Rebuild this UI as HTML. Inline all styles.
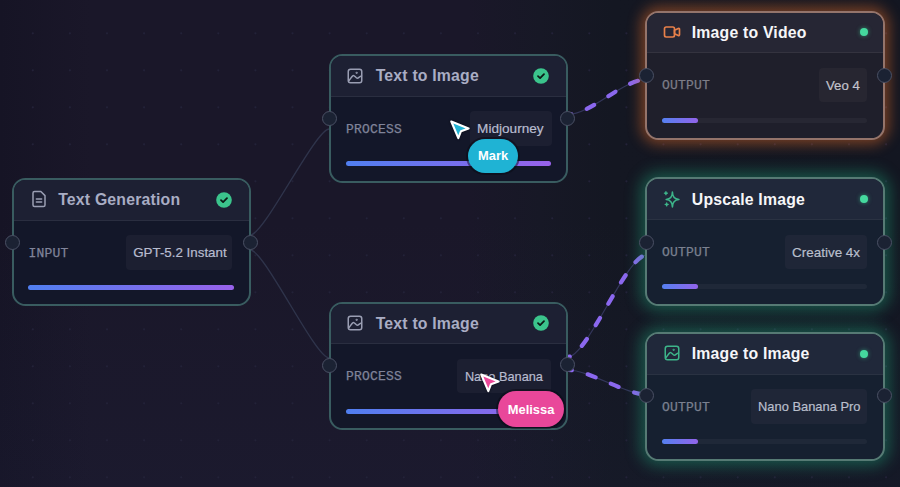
<!DOCTYPE html>
<html><head><meta charset="utf-8"><style>
*{margin:0;padding:0;box-sizing:border-box}
html,body{width:900px;height:487px;overflow:hidden}
body{background:linear-gradient(180deg,rgba(0,0,0,0) 45%,rgba(40,50,90,0.10) 100%),linear-gradient(90deg,#161425 0%,#1a1729 10%,#1a1729 52%,#171826 60%,#141722 68%,#131621 100%);font-family:"Liberation Sans",sans-serif;position:relative}
.dots,.wires{position:absolute;left:0;top:0}
.node{position:absolute;border:2px solid;border-radius:13.5px}
.head{position:absolute;left:0;top:0;right:0;height:40px;border-bottom:1px solid;border-radius:11.5px 11.5px 0 0}
.ic{position:absolute;display:flex;align-items:center;justify-content:center}
.ic svg{display:block}
.title{position:absolute;font-weight:bold;font-size:15.8px;letter-spacing:0.2px;line-height:18px;white-space:nowrap}
.check{position:absolute;width:16px;height:16px}
.check svg{display:block}
.dot{position:absolute;width:8px;height:8px;border-radius:50%;background:#45d99e;box-shadow:0 0 4px rgba(62,215,154,0.55)}
.label{position:absolute;font-family:"Liberation Mono",monospace;font-size:13px;letter-spacing:0.2px;line-height:15px;-webkit-text-stroke:0.25px currentColor}
.chip{position:absolute;height:34.5px;overflow:visible;font-size:13.2px;line-height:35.9px;border-radius:4px;white-space:nowrap;-webkit-text-stroke:0.2px currentColor}
.bar{position:absolute;height:5px;border-radius:3px}
.port{position:absolute;width:15px;height:15px;border-radius:50%;background:#1b2233;border:1.6px solid #4a5064}
.cur{position:absolute;filter:drop-shadow(0 0 1px rgba(5,5,15,0.9))}
.pill{position:absolute;border-radius:18px;color:#fff;font-weight:bold;font-size:12.9px;text-align:center;line-height:34.5px;box-shadow:0 0 0 2px rgba(10,10,20,0.5)}
</style></head>
<body>
<svg class="dots" width="900" height="487"><g fill="#232238"><circle cx="32.8" cy="33.3" r="1.1"/><circle cx="32.8" cy="70.3" r="1.1"/><circle cx="32.8" cy="107.3" r="1.1"/><circle cx="32.8" cy="144.3" r="1.1"/><circle cx="32.8" cy="181.3" r="1.1"/><circle cx="32.8" cy="218.3" r="1.1"/><circle cx="32.8" cy="255.3" r="1.1"/><circle cx="32.8" cy="292.3" r="1.1"/><circle cx="32.8" cy="329.3" r="1.1"/><circle cx="32.8" cy="366.3" r="1.1"/><circle cx="32.8" cy="403.3" r="1.1"/><circle cx="32.8" cy="440.3" r="1.1"/><circle cx="32.8" cy="477.3" r="1.1"/><circle cx="69.9" cy="33.3" r="1.1"/><circle cx="69.9" cy="70.3" r="1.1"/><circle cx="69.9" cy="107.3" r="1.1"/><circle cx="69.9" cy="144.3" r="1.1"/><circle cx="69.9" cy="181.3" r="1.1"/><circle cx="69.9" cy="218.3" r="1.1"/><circle cx="69.9" cy="255.3" r="1.1"/><circle cx="69.9" cy="292.3" r="1.1"/><circle cx="69.9" cy="329.3" r="1.1"/><circle cx="69.9" cy="366.3" r="1.1"/><circle cx="69.9" cy="403.3" r="1.1"/><circle cx="69.9" cy="440.3" r="1.1"/><circle cx="69.9" cy="477.3" r="1.1"/><circle cx="107.0" cy="33.3" r="1.1"/><circle cx="107.0" cy="70.3" r="1.1"/><circle cx="107.0" cy="107.3" r="1.1"/><circle cx="107.0" cy="144.3" r="1.1"/><circle cx="107.0" cy="181.3" r="1.1"/><circle cx="107.0" cy="218.3" r="1.1"/><circle cx="107.0" cy="255.3" r="1.1"/><circle cx="107.0" cy="292.3" r="1.1"/><circle cx="107.0" cy="329.3" r="1.1"/><circle cx="107.0" cy="366.3" r="1.1"/><circle cx="107.0" cy="403.3" r="1.1"/><circle cx="107.0" cy="440.3" r="1.1"/><circle cx="107.0" cy="477.3" r="1.1"/><circle cx="144.1" cy="33.3" r="1.1"/><circle cx="144.1" cy="70.3" r="1.1"/><circle cx="144.1" cy="107.3" r="1.1"/><circle cx="144.1" cy="144.3" r="1.1"/><circle cx="144.1" cy="181.3" r="1.1"/><circle cx="144.1" cy="218.3" r="1.1"/><circle cx="144.1" cy="255.3" r="1.1"/><circle cx="144.1" cy="292.3" r="1.1"/><circle cx="144.1" cy="329.3" r="1.1"/><circle cx="144.1" cy="366.3" r="1.1"/><circle cx="144.1" cy="403.3" r="1.1"/><circle cx="144.1" cy="440.3" r="1.1"/><circle cx="144.1" cy="477.3" r="1.1"/><circle cx="181.2" cy="33.3" r="1.1"/><circle cx="181.2" cy="70.3" r="1.1"/><circle cx="181.2" cy="107.3" r="1.1"/><circle cx="181.2" cy="144.3" r="1.1"/><circle cx="181.2" cy="181.3" r="1.1"/><circle cx="181.2" cy="218.3" r="1.1"/><circle cx="181.2" cy="255.3" r="1.1"/><circle cx="181.2" cy="292.3" r="1.1"/><circle cx="181.2" cy="329.3" r="1.1"/><circle cx="181.2" cy="366.3" r="1.1"/><circle cx="181.2" cy="403.3" r="1.1"/><circle cx="181.2" cy="440.3" r="1.1"/><circle cx="181.2" cy="477.3" r="1.1"/><circle cx="218.3" cy="33.3" r="1.1"/><circle cx="218.3" cy="70.3" r="1.1"/><circle cx="218.3" cy="107.3" r="1.1"/><circle cx="218.3" cy="144.3" r="1.1"/><circle cx="218.3" cy="181.3" r="1.1"/><circle cx="218.3" cy="218.3" r="1.1"/><circle cx="218.3" cy="255.3" r="1.1"/><circle cx="218.3" cy="292.3" r="1.1"/><circle cx="218.3" cy="329.3" r="1.1"/><circle cx="218.3" cy="366.3" r="1.1"/><circle cx="218.3" cy="403.3" r="1.1"/><circle cx="218.3" cy="440.3" r="1.1"/><circle cx="218.3" cy="477.3" r="1.1"/><circle cx="255.4" cy="33.3" r="1.1"/><circle cx="255.4" cy="70.3" r="1.1"/><circle cx="255.4" cy="107.3" r="1.1"/><circle cx="255.4" cy="144.3" r="1.1"/><circle cx="255.4" cy="181.3" r="1.1"/><circle cx="255.4" cy="218.3" r="1.1"/><circle cx="255.4" cy="255.3" r="1.1"/><circle cx="255.4" cy="292.3" r="1.1"/><circle cx="255.4" cy="329.3" r="1.1"/><circle cx="255.4" cy="366.3" r="1.1"/><circle cx="255.4" cy="403.3" r="1.1"/><circle cx="255.4" cy="440.3" r="1.1"/><circle cx="255.4" cy="477.3" r="1.1"/><circle cx="292.5" cy="33.3" r="1.1"/><circle cx="292.5" cy="70.3" r="1.1"/><circle cx="292.5" cy="107.3" r="1.1"/><circle cx="292.5" cy="144.3" r="1.1"/><circle cx="292.5" cy="181.3" r="1.1"/><circle cx="292.5" cy="218.3" r="1.1"/><circle cx="292.5" cy="255.3" r="1.1"/><circle cx="292.5" cy="292.3" r="1.1"/><circle cx="292.5" cy="329.3" r="1.1"/><circle cx="292.5" cy="366.3" r="1.1"/><circle cx="292.5" cy="403.3" r="1.1"/><circle cx="292.5" cy="440.3" r="1.1"/><circle cx="292.5" cy="477.3" r="1.1"/><circle cx="329.6" cy="33.3" r="1.1"/><circle cx="329.6" cy="70.3" r="1.1"/><circle cx="329.6" cy="107.3" r="1.1"/><circle cx="329.6" cy="144.3" r="1.1"/><circle cx="329.6" cy="181.3" r="1.1"/><circle cx="329.6" cy="218.3" r="1.1"/><circle cx="329.6" cy="255.3" r="1.1"/><circle cx="329.6" cy="292.3" r="1.1"/><circle cx="329.6" cy="329.3" r="1.1"/><circle cx="329.6" cy="366.3" r="1.1"/><circle cx="329.6" cy="403.3" r="1.1"/><circle cx="329.6" cy="440.3" r="1.1"/><circle cx="329.6" cy="477.3" r="1.1"/><circle cx="366.7" cy="33.3" r="1.1"/><circle cx="366.7" cy="70.3" r="1.1"/><circle cx="366.7" cy="107.3" r="1.1"/><circle cx="366.7" cy="144.3" r="1.1"/><circle cx="366.7" cy="181.3" r="1.1"/><circle cx="366.7" cy="218.3" r="1.1"/><circle cx="366.7" cy="255.3" r="1.1"/><circle cx="366.7" cy="292.3" r="1.1"/><circle cx="366.7" cy="329.3" r="1.1"/><circle cx="366.7" cy="366.3" r="1.1"/><circle cx="366.7" cy="403.3" r="1.1"/><circle cx="366.7" cy="440.3" r="1.1"/><circle cx="366.7" cy="477.3" r="1.1"/><circle cx="403.8" cy="33.3" r="1.1"/><circle cx="403.8" cy="70.3" r="1.1"/><circle cx="403.8" cy="107.3" r="1.1"/><circle cx="403.8" cy="144.3" r="1.1"/><circle cx="403.8" cy="181.3" r="1.1"/><circle cx="403.8" cy="218.3" r="1.1"/><circle cx="403.8" cy="255.3" r="1.1"/><circle cx="403.8" cy="292.3" r="1.1"/><circle cx="403.8" cy="329.3" r="1.1"/><circle cx="403.8" cy="366.3" r="1.1"/><circle cx="403.8" cy="403.3" r="1.1"/><circle cx="403.8" cy="440.3" r="1.1"/><circle cx="403.8" cy="477.3" r="1.1"/><circle cx="440.9" cy="33.3" r="1.1"/><circle cx="440.9" cy="70.3" r="1.1"/><circle cx="440.9" cy="107.3" r="1.1"/><circle cx="440.9" cy="144.3" r="1.1"/><circle cx="440.9" cy="181.3" r="1.1"/><circle cx="440.9" cy="218.3" r="1.1"/><circle cx="440.9" cy="255.3" r="1.1"/><circle cx="440.9" cy="292.3" r="1.1"/><circle cx="440.9" cy="329.3" r="1.1"/><circle cx="440.9" cy="366.3" r="1.1"/><circle cx="440.9" cy="403.3" r="1.1"/><circle cx="440.9" cy="440.3" r="1.1"/><circle cx="440.9" cy="477.3" r="1.1"/><circle cx="478.0" cy="33.3" r="1.1"/><circle cx="478.0" cy="70.3" r="1.1"/><circle cx="478.0" cy="107.3" r="1.1"/><circle cx="478.0" cy="144.3" r="1.1"/><circle cx="478.0" cy="181.3" r="1.1"/><circle cx="478.0" cy="218.3" r="1.1"/><circle cx="478.0" cy="255.3" r="1.1"/><circle cx="478.0" cy="292.3" r="1.1"/><circle cx="478.0" cy="329.3" r="1.1"/><circle cx="478.0" cy="366.3" r="1.1"/><circle cx="478.0" cy="403.3" r="1.1"/><circle cx="478.0" cy="440.3" r="1.1"/><circle cx="478.0" cy="477.3" r="1.1"/><circle cx="515.1" cy="33.3" r="1.1"/><circle cx="515.1" cy="70.3" r="1.1"/><circle cx="515.1" cy="107.3" r="1.1"/><circle cx="515.1" cy="144.3" r="1.1"/><circle cx="515.1" cy="181.3" r="1.1"/><circle cx="515.1" cy="218.3" r="1.1"/><circle cx="515.1" cy="255.3" r="1.1"/><circle cx="515.1" cy="292.3" r="1.1"/><circle cx="515.1" cy="329.3" r="1.1"/><circle cx="515.1" cy="366.3" r="1.1"/><circle cx="515.1" cy="403.3" r="1.1"/><circle cx="515.1" cy="440.3" r="1.1"/><circle cx="515.1" cy="477.3" r="1.1"/><circle cx="552.2" cy="33.3" r="1.1"/><circle cx="552.2" cy="70.3" r="1.1"/><circle cx="552.2" cy="107.3" r="1.1"/><circle cx="552.2" cy="144.3" r="1.1"/><circle cx="552.2" cy="181.3" r="1.1"/><circle cx="552.2" cy="218.3" r="1.1"/><circle cx="552.2" cy="255.3" r="1.1"/><circle cx="552.2" cy="292.3" r="1.1"/><circle cx="552.2" cy="329.3" r="1.1"/><circle cx="552.2" cy="366.3" r="1.1"/><circle cx="552.2" cy="403.3" r="1.1"/><circle cx="552.2" cy="440.3" r="1.1"/><circle cx="552.2" cy="477.3" r="1.1"/><circle cx="589.3" cy="33.3" r="1.1"/><circle cx="589.3" cy="70.3" r="1.1"/><circle cx="589.3" cy="107.3" r="1.1"/><circle cx="589.3" cy="144.3" r="1.1"/><circle cx="589.3" cy="181.3" r="1.1"/><circle cx="589.3" cy="218.3" r="1.1"/><circle cx="589.3" cy="255.3" r="1.1"/><circle cx="589.3" cy="292.3" r="1.1"/><circle cx="589.3" cy="329.3" r="1.1"/><circle cx="589.3" cy="366.3" r="1.1"/><circle cx="589.3" cy="403.3" r="1.1"/><circle cx="589.3" cy="440.3" r="1.1"/><circle cx="589.3" cy="477.3" r="1.1"/><circle cx="626.4" cy="33.3" r="1.1"/><circle cx="626.4" cy="70.3" r="1.1"/><circle cx="626.4" cy="107.3" r="1.1"/><circle cx="626.4" cy="144.3" r="1.1"/><circle cx="626.4" cy="181.3" r="1.1"/><circle cx="626.4" cy="218.3" r="1.1"/><circle cx="626.4" cy="255.3" r="1.1"/><circle cx="626.4" cy="292.3" r="1.1"/><circle cx="626.4" cy="329.3" r="1.1"/><circle cx="626.4" cy="366.3" r="1.1"/><circle cx="626.4" cy="403.3" r="1.1"/><circle cx="626.4" cy="440.3" r="1.1"/><circle cx="626.4" cy="477.3" r="1.1"/><circle cx="663.5" cy="33.3" r="1.1"/><circle cx="663.5" cy="70.3" r="1.1"/><circle cx="663.5" cy="107.3" r="1.1"/><circle cx="663.5" cy="144.3" r="1.1"/><circle cx="663.5" cy="181.3" r="1.1"/><circle cx="663.5" cy="218.3" r="1.1"/><circle cx="663.5" cy="255.3" r="1.1"/><circle cx="663.5" cy="292.3" r="1.1"/><circle cx="663.5" cy="329.3" r="1.1"/><circle cx="663.5" cy="366.3" r="1.1"/><circle cx="663.5" cy="403.3" r="1.1"/><circle cx="663.5" cy="440.3" r="1.1"/><circle cx="663.5" cy="477.3" r="1.1"/><circle cx="700.6" cy="33.3" r="1.1"/><circle cx="700.6" cy="70.3" r="1.1"/><circle cx="700.6" cy="107.3" r="1.1"/><circle cx="700.6" cy="144.3" r="1.1"/><circle cx="700.6" cy="181.3" r="1.1"/><circle cx="700.6" cy="218.3" r="1.1"/><circle cx="700.6" cy="255.3" r="1.1"/><circle cx="700.6" cy="292.3" r="1.1"/><circle cx="700.6" cy="329.3" r="1.1"/><circle cx="700.6" cy="366.3" r="1.1"/><circle cx="700.6" cy="403.3" r="1.1"/><circle cx="700.6" cy="440.3" r="1.1"/><circle cx="700.6" cy="477.3" r="1.1"/><circle cx="737.7" cy="33.3" r="1.1"/><circle cx="737.7" cy="70.3" r="1.1"/><circle cx="737.7" cy="107.3" r="1.1"/><circle cx="737.7" cy="144.3" r="1.1"/><circle cx="737.7" cy="181.3" r="1.1"/><circle cx="737.7" cy="218.3" r="1.1"/><circle cx="737.7" cy="255.3" r="1.1"/><circle cx="737.7" cy="292.3" r="1.1"/><circle cx="737.7" cy="329.3" r="1.1"/><circle cx="737.7" cy="366.3" r="1.1"/><circle cx="737.7" cy="403.3" r="1.1"/><circle cx="737.7" cy="440.3" r="1.1"/><circle cx="737.7" cy="477.3" r="1.1"/><circle cx="774.8" cy="33.3" r="1.1"/><circle cx="774.8" cy="70.3" r="1.1"/><circle cx="774.8" cy="107.3" r="1.1"/><circle cx="774.8" cy="144.3" r="1.1"/><circle cx="774.8" cy="181.3" r="1.1"/><circle cx="774.8" cy="218.3" r="1.1"/><circle cx="774.8" cy="255.3" r="1.1"/><circle cx="774.8" cy="292.3" r="1.1"/><circle cx="774.8" cy="329.3" r="1.1"/><circle cx="774.8" cy="366.3" r="1.1"/><circle cx="774.8" cy="403.3" r="1.1"/><circle cx="774.8" cy="440.3" r="1.1"/><circle cx="774.8" cy="477.3" r="1.1"/><circle cx="811.9" cy="33.3" r="1.1"/><circle cx="811.9" cy="70.3" r="1.1"/><circle cx="811.9" cy="107.3" r="1.1"/><circle cx="811.9" cy="144.3" r="1.1"/><circle cx="811.9" cy="181.3" r="1.1"/><circle cx="811.9" cy="218.3" r="1.1"/><circle cx="811.9" cy="255.3" r="1.1"/><circle cx="811.9" cy="292.3" r="1.1"/><circle cx="811.9" cy="329.3" r="1.1"/><circle cx="811.9" cy="366.3" r="1.1"/><circle cx="811.9" cy="403.3" r="1.1"/><circle cx="811.9" cy="440.3" r="1.1"/><circle cx="811.9" cy="477.3" r="1.1"/><circle cx="849.0" cy="33.3" r="1.1"/><circle cx="849.0" cy="70.3" r="1.1"/><circle cx="849.0" cy="107.3" r="1.1"/><circle cx="849.0" cy="144.3" r="1.1"/><circle cx="849.0" cy="181.3" r="1.1"/><circle cx="849.0" cy="218.3" r="1.1"/><circle cx="849.0" cy="255.3" r="1.1"/><circle cx="849.0" cy="292.3" r="1.1"/><circle cx="849.0" cy="329.3" r="1.1"/><circle cx="849.0" cy="366.3" r="1.1"/><circle cx="849.0" cy="403.3" r="1.1"/><circle cx="849.0" cy="440.3" r="1.1"/><circle cx="849.0" cy="477.3" r="1.1"/><circle cx="886.1" cy="33.3" r="1.1"/><circle cx="886.1" cy="70.3" r="1.1"/><circle cx="886.1" cy="107.3" r="1.1"/><circle cx="886.1" cy="144.3" r="1.1"/><circle cx="886.1" cy="181.3" r="1.1"/><circle cx="886.1" cy="218.3" r="1.1"/><circle cx="886.1" cy="255.3" r="1.1"/><circle cx="886.1" cy="292.3" r="1.1"/><circle cx="886.1" cy="329.3" r="1.1"/><circle cx="886.1" cy="366.3" r="1.1"/><circle cx="886.1" cy="403.3" r="1.1"/><circle cx="886.1" cy="440.3" r="1.1"/><circle cx="886.1" cy="477.3" r="1.1"/></g></svg>
<svg class="wires" width="900" height="487" viewBox="0 0 900 487"><path d="M250.3,235 C264.3,235 315.3,129 329.3,129" fill="none" stroke="#2f344b" stroke-width="1.4"/><path d="M250.3,250 C264.3,250 315.2,358 329.2,358" fill="none" stroke="#2f344b" stroke-width="1.4"/><path d="M567.4,114.5 C591.4,114.5 622.6,79.5 646.6,79.5" fill="none" stroke="#33365a" stroke-width="1.2"/><path d="M567.4,114.5 C591.4,114.5 622.6,79.5 646.6,79.5" fill="none" stroke="#8b68ee" stroke-width="4.2" stroke-linecap="round" stroke-dasharray="8.5 16.5" stroke-dashoffset="4.7"/><path d="M567.4,357 C587.4,357 626.6,255 646.6,255" fill="none" stroke="#33365a" stroke-width="1.2"/><path d="M567.4,357 C587.4,357 626.6,255 646.6,255" fill="none" stroke="#8b68ee" stroke-width="4.2" stroke-linecap="round" stroke-dasharray="8.5 16.3" stroke-dashoffset="6.0"/><path d="M568.4,370 C588.4,370 626.3,394.5 646.3,394.5" fill="none" stroke="#33365a" stroke-width="1.2"/><path d="M568.4,370 C588.4,370 626.3,394.5 646.3,394.5" fill="none" stroke="#8b68ee" stroke-width="4.2" stroke-linecap="round" stroke-dasharray="8.5 16.3" stroke-dashoffset="4.9"/></svg>
<div class="node" style="left:11.5px;top:178px;width:239.6px;height:128px;border-color:#395c60;background:#131729;">
<div class="head" style="height:40.8px;background:#1d2033;border-bottom-color:#2a2e40"></div>
<div class="ic" style="left:16.00px;top:10.10px;width:18px;height:18px"><svg width="18" height="18" viewBox="0 0 24 24" fill="none" stroke="#9a9eb3" stroke-width="2" stroke-linecap="round" stroke-linejoin="round"><path d="M14.5 2H6a2 2 0 0 0-2 2v16a2 2 0 0 0 2 2h12a2 2 0 0 0 2-2V7.5z"/><path d="M15.5 12H8.5"/><path d="M15.5 16H8.5"/></svg></div>
<div class="title" style="left:44.7px;top:11.13px;color:#a9adc4">Text Generation</div>
<div class="check" style="left:202.90px;top:11.70px"><svg width="16" height="16" viewBox="0 0 16 16"><circle cx="8" cy="8" r="7.8" fill="#3bc48c"/><path d="M5 8.1l2.1 2 3.9-3.9" fill="none" stroke="#0c1a16" stroke-width="1.8" stroke-linecap="round" stroke-linejoin="round"/></svg></div>
<div class="label" style="left:15.0px;top:65.72px;color:#80849a">INPUT</div>
<div class="chip" style="left:112.80px;width:105.90px;top:55.35px;padding-left:6.90px;font-size:13.35px;background:#1c1f31;color:#b8bccf">GPT-5.2 Instant</div>
<div class="bar" style="left:14.7px;right:15.2px;top:105.0px;background:linear-gradient(90deg,#507ff0,#9862ea)"></div>
</div><div class="node" style="left:329px;top:54px;width:238.8px;height:128.6px;border-color:#395c60;background:#131729;">
<div class="head" style="height:40.8px;background:#1d2033;border-bottom-color:#2a2e40"></div>
<div class="ic" style="left:15.30px;top:10.80px;width:18px;height:18px"><svg width="18" height="18" viewBox="0 0 24 24" fill="none" stroke="#9a9eb3" stroke-width="2" stroke-linecap="round" stroke-linejoin="round"><rect x="3" y="3" width="18" height="18" rx="3"/><path d="M4 18.2 C6.5 15 8.5 11.2 9.9 11.2 C11.5 11.2 13.4 15 15.1 15 C16.7 15 18.3 12.6 20.6 11.8"/><circle cx="14.2" cy="7.8" r="0.5" fill="#9a9eb3"/></svg></div>
<div class="title" style="left:44.7px;top:11.13px;color:#a9adc4">Text to Image</div>
<div class="check" style="left:202.10px;top:11.70px"><svg width="16" height="16" viewBox="0 0 16 16"><circle cx="8" cy="8" r="7.8" fill="#3bc48c"/><path d="M5 8.1l2.1 2 3.9-3.9" fill="none" stroke="#0c1a16" stroke-width="1.8" stroke-linecap="round" stroke-linejoin="round"/></svg></div>
<div class="label" style="left:15.0px;top:65.72px;color:#80849a">PROCESS</div>
<div class="chip" style="left:139.00px;width:81.60px;top:55.35px;padding-left:7.10px;font-size:13.6px;background:#1c1f31;color:#b8bccf">Midjourney</div>
<div class="bar" style="left:14.7px;right:15.2px;top:105.0px;background:linear-gradient(90deg,#507ff0,#9862ea)"></div>
</div><div class="node" style="left:329px;top:301.5px;width:238.8px;height:128.5px;border-color:#395c60;background:#131729;">
<div class="head" style="height:40.8px;background:#1d2033;border-bottom-color:#2a2e40"></div>
<div class="ic" style="left:15.30px;top:10.80px;width:18px;height:18px"><svg width="18" height="18" viewBox="0 0 24 24" fill="none" stroke="#9a9eb3" stroke-width="2" stroke-linecap="round" stroke-linejoin="round"><rect x="3" y="3" width="18" height="18" rx="3"/><path d="M4 18.2 C6.5 15 8.5 11.2 9.9 11.2 C11.5 11.2 13.4 15 15.1 15 C16.7 15 18.3 12.6 20.6 11.8"/><circle cx="14.2" cy="7.8" r="0.5" fill="#9a9eb3"/></svg></div>
<div class="title" style="left:44.7px;top:11.13px;color:#a9adc4">Text to Image</div>
<div class="check" style="left:202.10px;top:11.70px"><svg width="16" height="16" viewBox="0 0 16 16"><circle cx="8" cy="8" r="7.8" fill="#3bc48c"/><path d="M5 8.1l2.1 2 3.9-3.9" fill="none" stroke="#0c1a16" stroke-width="1.8" stroke-linecap="round" stroke-linejoin="round"/></svg></div>
<div class="label" style="left:15.0px;top:65.72px;color:#80849a">PROCESS</div>
<div class="chip" style="left:126.40px;width:93.80px;top:55.35px;padding-left:7.50px;font-size:12.77px;background:#1c1f31;color:#b8bccf">Nano Banana</div>
<div class="bar" style="left:14.7px;right:15.2px;top:105.0px;background:linear-gradient(90deg,#507ff0,#9862ea)"></div>
</div><div class="node" style="left:645.1px;top:10.6px;width:240.4px;height:129.5px;border-color:#94746b;background:#1f1f2b;box-shadow:0 0 14px 4px rgba(234,110,40,0.48);">
<div class="head" style="height:40.8px;background:#262634;border-bottom-color:#34333f"></div>
<div class="ic" style="left:14.80px;top:9.70px;width:20px;height:20px"><svg width="20" height="20" viewBox="0 0 24 24" fill="none" stroke="#e8804a" stroke-width="2" stroke-linecap="round" stroke-linejoin="round"><path d="M15 10l4.553-2.276A1 1 0 0 1 21 8.618v6.764a1 1 0 0 1-1.447.894L15 14v-4z"/><rect x="3" y="6" width="12" height="12" rx="2"/></svg></div>
<div class="title" style="left:44.7px;top:11.13px;color:#f6f6f8">Image to Video</div>
<div class="dot" style="left:213.10px;top:15.70px"></div>
<div class="label" style="left:15.0px;top:65.72px;color:#7d7d88">OUTPUT</div>
<div class="chip" style="left:172.10px;width:48.30px;top:55.35px;padding-left:6.80px;font-size:13.2px;background:#272631;color:#c3c3cc">Veo 4</div>
<div class="bar" style="left:14.7px;right:16.3px;top:105.0px;background:rgba(255,255,255,0.04)"></div>
<div class="bar" style="left:14.7px;width:36px;top:105.0px;background:linear-gradient(90deg,#5580f0,#9264ea)"></div>
</div><div class="node" style="left:645.1px;top:177.4px;width:240.4px;height:128.9px;border-color:#567a74;background:#162030;box-shadow:0 0 15px 5px rgba(30,170,125,0.42);">
<div class="head" style="height:40.8px;background:#20283a;border-bottom-color:#2a3242"></div>
<div class="ic" style="left:15.00px;top:9.90px;width:20px;height:20px"><svg width="20" height="20" viewBox="0 0 24 24" fill="none" stroke="#3db58a" stroke-width="2" stroke-linecap="round" stroke-linejoin="round"><path d="M12.5 3.6 C12.5 8.6 14.7 12.1 20.3 12.6 C14.7 13.1 12.5 16.6 12.5 21.6 C12.5 16.6 10.3 13.1 5 12.6 C10.3 12.1 12.5 8.6 12.5 3.6Z" stroke-width="1.85"/><path d="M4.7 3.2 C4.7 4.3 5.3 5 6.5 5 C5.3 5 4.7 5.7 4.7 6.8 C4.7 5.7 4.1 5 2.9 5 C4.1 5 4.7 4.3 4.7 3.2Z" stroke-width="1.5"/><path d="M5.6 16.7 C5.6 17.8 6.2 18.5 7.4 18.5 C6.2 18.5 5.6 19.2 5.6 20.3 C5.6 19.2 5 18.5 3.8 18.5 C5 18.5 5.6 17.8 5.6 16.7Z" stroke-width="1.5"/></svg></div>
<div class="title" style="left:44.7px;top:11.13px;color:#f6f6f8">Upscale Image</div>
<div class="dot" style="left:213.10px;top:15.70px"></div>
<div class="label" style="left:15.0px;top:65.72px;color:#7b8190">OUTPUT</div>
<div class="chip" style="left:138.10px;width:82.20px;top:55.35px;padding-left:6.90px;font-size:13.45px;background:#1f2637;color:#b9bfcc">Creative 4x</div>
<div class="bar" style="left:14.7px;right:16.3px;top:105.0px;background:rgba(255,255,255,0.04)"></div>
<div class="bar" style="left:14.7px;width:36px;top:105.0px;background:linear-gradient(90deg,#5580f0,#9264ea)"></div>
</div><div class="node" style="left:645.1px;top:332px;width:240.4px;height:128.7px;border-color:#567a74;background:#162030;box-shadow:0 0 15px 5px rgba(30,170,125,0.42);">
<div class="head" style="height:40.8px;background:#20283a;border-bottom-color:#2a3242"></div>
<div class="ic" style="left:15.90px;top:10.40px;width:18px;height:18px"><svg width="18" height="18" viewBox="0 0 24 24" fill="none" stroke="#3db58a" stroke-width="2" stroke-linecap="round" stroke-linejoin="round"><rect x="3" y="3" width="18" height="18" rx="3"/><path d="M4 18.2 C6.5 15 8.5 11.2 9.9 11.2 C11.5 11.2 13.4 15 15.1 15 C16.7 15 18.3 12.6 20.6 11.8"/><circle cx="14.2" cy="7.8" r="0.5" fill="#3db58a"/></svg></div>
<div class="title" style="left:44.7px;top:11.13px;color:#f6f6f8">Image to Image</div>
<div class="dot" style="left:213.10px;top:15.70px"></div>
<div class="label" style="left:15.0px;top:65.72px;color:#7b8190">OUTPUT</div>
<div class="chip" style="left:103.80px;width:116.60px;top:55.35px;padding-left:7.10px;font-size:12.9px;background:#1f2637;color:#b9bfcc">Nano Banana Pro</div>
<div class="bar" style="left:14.7px;right:16.3px;top:105.0px;background:rgba(255,255,255,0.04)"></div>
<div class="bar" style="left:14.7px;width:36px;top:105.0px;background:linear-gradient(90deg,#5580f0,#9264ea)"></div>
</div>
<div class="port" style="left:5.1px;top:234.5px"></div><div class="port" style="left:242.7px;top:234.5px"></div><div class="port" style="left:322.3px;top:111.2px"></div><div class="port" style="left:559.5px;top:111.3px"></div><div class="port" style="left:322.1px;top:357.5px"></div><div class="port" style="left:559.8px;top:357.3px"></div><div class="port" style="left:638.8px;top:67.5px"></div><div class="port" style="left:877.0px;top:67.5px"></div><div class="port" style="left:638.7px;top:234.5px"></div><div class="port" style="left:877.0px;top:234.5px"></div><div class="port" style="left:639.0px;top:388.0px"></div><div class="port" style="left:877.0px;top:388.0px"></div>
<svg class="cur" style="left:446px;top:116px" width="30" height="30" viewBox="0 0 30 30"><path d="M5.3 5.5 L22.6 12.5 L15 15.2 L12.3 22.2 Z" fill="#22b3d3" stroke="#fff" stroke-width="2.1" stroke-linejoin="round"/></svg>
<div class="pill" style="left:468.3px;top:138.5px;width:49.5px;height:34.5px;background:#1fb3d4">Mark</div>
<div class="pill" style="left:497.8px;top:391px;width:66.5px;height:35.5px;line-height:37px;background:#e9479a">Melissa</div>
<svg class="cur" style="left:476px;top:369px" width="30" height="30" viewBox="0 0 30 30"><path d="M5.3 5.5 L22.6 12.5 L15 15.2 L12.3 22.2 Z" fill="#ec4899" stroke="#fff" stroke-width="2.1" stroke-linejoin="round"/></svg>
</body></html>
